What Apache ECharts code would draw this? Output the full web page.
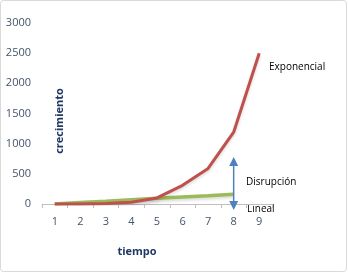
<!DOCTYPE html>
<html><head><meta charset="utf-8">
<script src="https://cdn.jsdelivr.net/npm/echarts@6/dist/echarts.min.js"></script>
<style>html,body{margin:0;padding:0;background:#fff}#c{width:348px;height:273px}</style>
</head><body><div id="c"></div>
<script>
const categories = ['1','2','3','4','5','6','7','8','9'];
const exponencial = [0, 2, 8, 30, 100, 310, 590, 1190, 2500];
const disrupcion = [0, 25, 45, 70, 95, 115, 135, 160];
const yTicks = [0, 500, 1000, 1500, 2000, 2500, 3000];
const arrowCategory = '8';
const arrowRange = [780, -100];

const chart = echarts.init(document.getElementById('c'), null, {renderer:'canvas'});
const font = 'Open Sans, Noto Sans, sans-serif';
chart.setOption({
  animation: false,
  backgroundColor: '#fff',
  grid: {left: 42, right: 76, top: 23, bottom: 69, containLabel: false, outerBoundsMode: 'none'},
  xAxis: {
    type: 'category', data: categories, boundaryGap: true,
    axisLine: {lineStyle: {color: '#bfbfbf'}},
    axisTick: {show: true, length: 4, lineStyle: {color: '#bfbfbf'}},
    axisLabel: {color: '#44546A', fontSize: 11, fontFamily: font, margin: 12}
  },
  yAxis: {
    type: 'value', min: yTicks[0], max: yTicks[yTicks.length-1], interval: 500,
    splitLine: {show: false}, axisLine: {show: false}, axisTick: {show: false},
    axisLabel: {color: '#44546A', fontSize: 11, fontFamily: font, margin: 11, formatter: v => String(v)}
  },
  series: [
    {name: 'Disrupción', type: 'line', data: disrupcion, symbol: 'none',
     lineStyle: {color: '#9BBB59', width: 3.5, shadowColor: 'rgba(0,0,0,0.15)', shadowBlur: 3, shadowOffsetY: 2}, z: 2},
    {name: 'Exponencial', type: 'line', data: exponencial, symbol: 'none',
     lineStyle: {color: '#C0504D', width: 3, shadowColor: 'rgba(0,0,0,0.15)', shadowBlur: 3, shadowOffsetY: 2}, z: 3}
  ]
});

const pTop = chart.convertToPixel({gridIndex: 0}, [arrowCategory, arrowRange[0]]);
const pBot = chart.convertToPixel({gridIndex: 0}, [arrowCategory, arrowRange[1]]);
const ax = pTop[0], y1 = pTop[1], y2 = pBot[1];
const blue = '#4F81BD';
chart.setOption({
  graphic: [
    {type: 'rect', shape: {x: 0.5, y: 0.5, width: 346, height: 271, r: 3}, style: {fill: 'none', stroke: '#d9d9d9', lineWidth: 1}, silent: true},
    {type: 'line', shape: {x1: ax, y1: y1 + 6, x2: ax, y2: y2 - 6}, style: {stroke: blue, lineWidth: 1.5}, z: 10},
    {type: 'polygon', shape: {points: [[ax, y1], [ax - 4.5, y1 + 9], [ax + 4.5, y1 + 9]]}, style: {fill: blue}, z: 10},
    {type: 'polygon', shape: {points: [[ax, y2], [ax - 4.5, y2 - 9], [ax + 4.5, y2 - 9]]}, style: {fill: blue}, z: 10},
    {type: 'text', left: 269, top: 62, style: {text: 'Exponencial', fontSize: 10, fontFamily: font, fill: '#000'}},
    {type: 'text', left: 246, top: 177, style: {text: 'Disrupción', fontSize: 10, fontFamily: font, fill: '#000'}},
    {type: 'text', left: 247, top: 204, style: {text: 'Lineal', fontSize: 10, fontFamily: font, fill: '#000'}},
    {type: 'text', x: 60, y: 121, rotation: Math.PI / 2, style: {text: 'crecimiento', fontSize: 11, fontWeight: 'bold', fontFamily: font, fill: '#1F3864', align: 'center', verticalAlign: 'middle'}},
    {type: 'text', x: 137, y: 252, style: {text: 'tiempo', fontSize: 11, fontWeight: 'bold', fontFamily: font, fill: '#1F3864', align: 'center', verticalAlign: 'middle'}}
  ]
});
</script></body></html>
